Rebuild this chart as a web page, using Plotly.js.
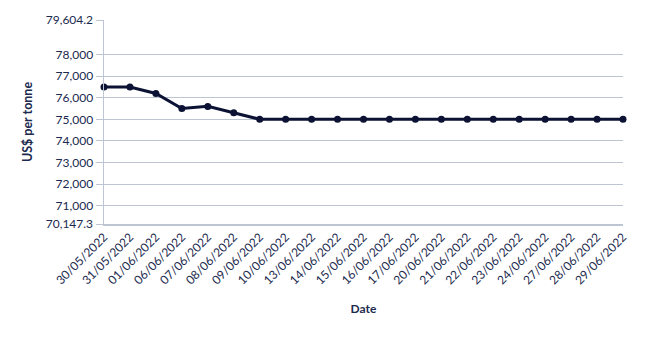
<!DOCTYPE html>
<html>
<head>
<meta charset="utf-8">
<script src="https://cdn.plot.ly/plotly-3.0.1.min.js"></script>
<style>html,body{margin:0;padding:0;background:#fff;}#chart{width:650px;height:337px;}</style>
</head>
<body>
<div id="chart"></div>
<script>
const dates = ["30/05/2022","31/05/2022","01/06/2022","06/06/2022","07/06/2022","08/06/2022","09/06/2022","10/06/2022","13/06/2022","14/06/2022","15/06/2022","16/06/2022","17/06/2022","20/06/2022","21/06/2022","22/06/2022","23/06/2022","24/06/2022","27/06/2022","28/06/2022","29/06/2022"];
const prices = [76500,76500,76200,75500,75600,75300,75000,75000,75000,75000,75000,75000,75000,75000,75000,75000,75000,75000,75000,75000,75000];
const yTickVals = [70147.3,71000,72000,73000,74000,75000,76000,77000,78000,79604.2];
const yTickText = ["70,147.3","71,000","72,000","73,000","74,000","75,000","76,000","77,000","78,000","79,604.2"];
const yRange = [70147.3, 79604.2];

const navy = '#0b1233';
const txt = '#1b2a4e';
const grid = '#bcc5d1';

Plotly.newPlot('chart', [{
  x: dates.map((d,i)=>i),
  y: prices,
  type: 'scatter',
  mode: 'lines+markers',
  line: {color: navy, width: 3},
  marker: {color: navy, size: 7},
  cliponaxis: false,
  hoverinfo: 'skip'
}], {
  width: 650, height: 337,
  margin: {l: 104, r: 27, t: 20, b: 113},
  paper_bgcolor: '#fff', plot_bgcolor: '#fff',
  font: {family: 'Lato, sans-serif', color: txt, size: 12},
  showlegend: false,
  xaxis: {
    range: [0, 20],
    tickvals: dates.map((d,i)=>i),
    ticktext: dates,
    tickangle: -45,
    tickfont: {size: 12, color: txt},
    showgrid: false,
    zeroline: false,
    showline: true, linecolor: grid, linewidth: 1.5,
    ticks: '',
    title: {text: '<b>Date</b>', font: {size: 12, color: txt}, standoff: 18}
  },
  yaxis: {
    range: yRange,
    tickvals: yTickVals,
    ticktext: yTickText,
    tickfont: {size: 12, color: txt},
    showgrid: true, gridcolor: grid, gridwidth: 1,
    zeroline: false,
    showline: true, linecolor: grid, linewidth: 1.5,
    ticks: 'outside', ticklen: 7, tickcolor: grid, tickwidth: 1,
    title: {text: '<b>US$ per tonne</b>', font: {size: 12.5, color: txt}, standoff: 10}
  }
}, {staticPlot: true});
</script>
</body>
</html>
